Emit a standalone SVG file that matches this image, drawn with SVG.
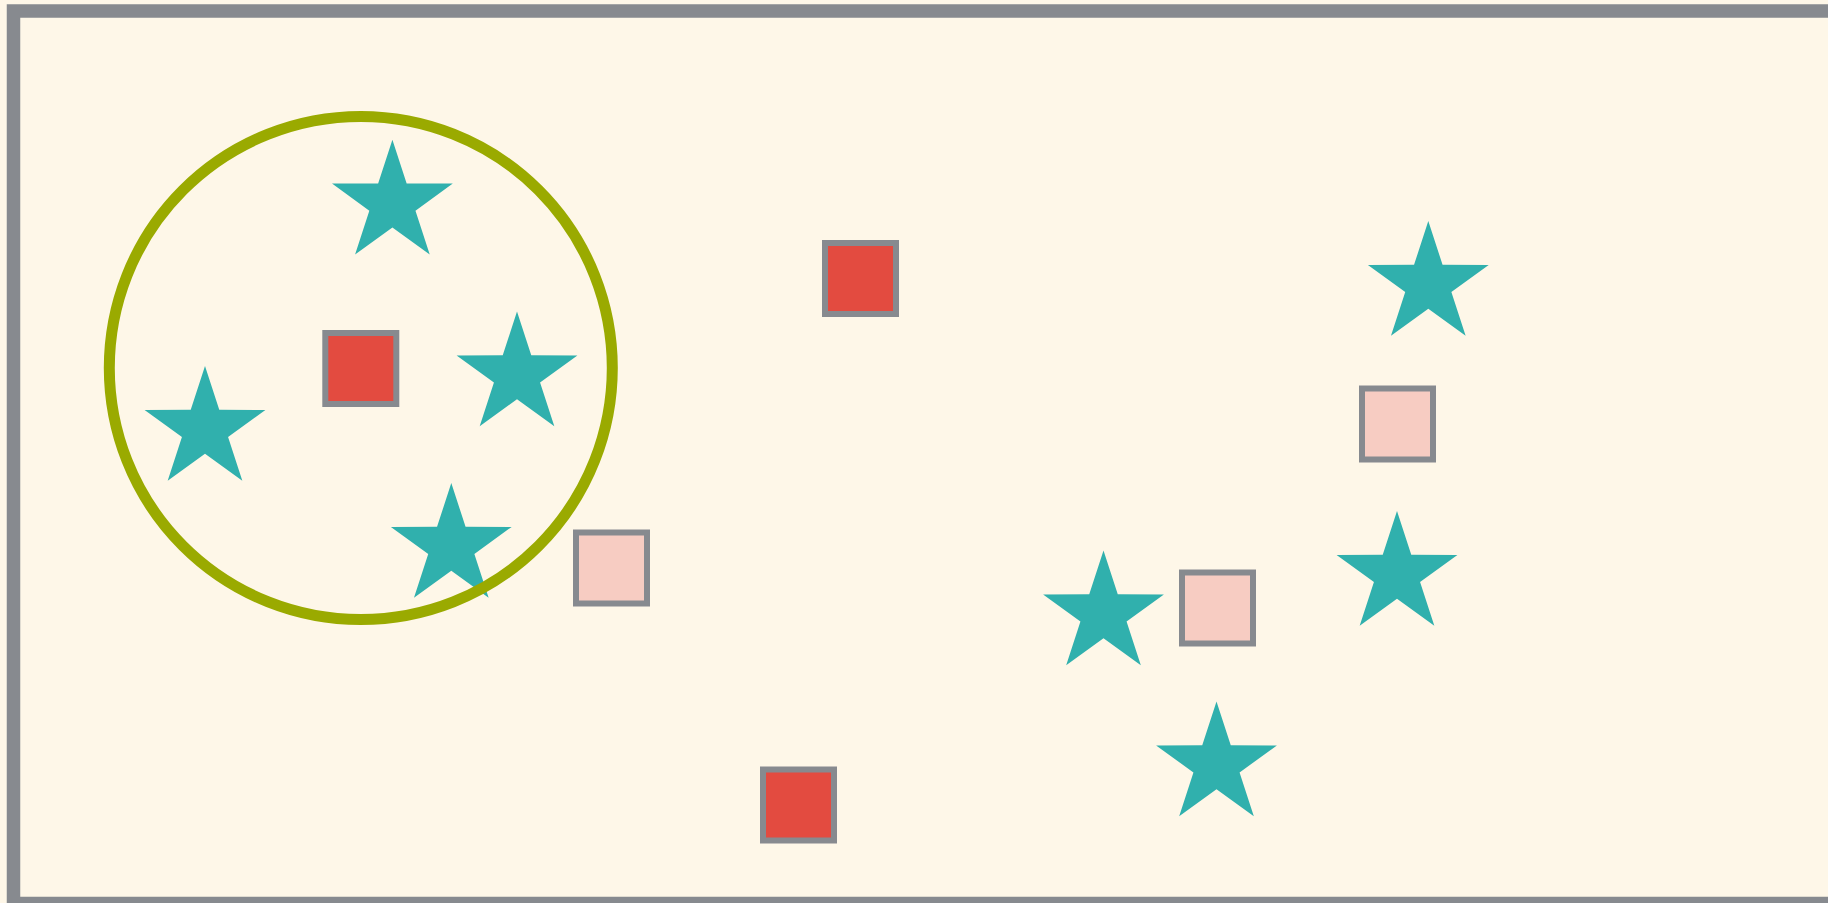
<svg xmlns="http://www.w3.org/2000/svg" xmlns:xlink="http://www.w3.org/1999/xlink" width="1828" height="903" viewBox="0 0 1828 903">
  <style>
    .frame { fill: #FEF7E8; stroke: #878A8F; stroke-width: 13.5; }
    .sq { stroke: #878A8F; stroke-width: 6; }
    .red { fill: #E34B40; }
    .pink { fill: #F7CCC2; }
    .star { fill: #30B0AD; }
    .ring { fill: none; stroke: #9AAA00; stroke-width: 11; }
  </style>
  <defs>
    <path id="starShape" d="M0,-63.5 L14.26,-19.63 L60.39,-19.62 L23.07,7.5 L37.32,51.37 L0,24.26 L-37.32,51.37 L-23.07,7.5 L-60.39,-19.62 L-14.26,-19.63 Z"/>
  </defs>
  <rect width="1828" height="903" fill="#FEF7E8"/>
  <rect class="frame" x="13.5" y="11" width="2000" height="892.5"/>
  <g id="connectors"></g>
  <g id="star1"><use xlink:href="#starShape" href="#starShape" class="star" transform="translate(392.4,203.2)"/></g>
  <g id="star2"><use xlink:href="#starShape" href="#starShape" class="star" transform="translate(517,375)"/></g>
  <g id="star3"><use xlink:href="#starShape" href="#starShape" class="star" transform="translate(205,429.5)"/></g>
  <g id="star4"><use xlink:href="#starShape" href="#starShape" class="star" transform="translate(451.3,546.5)"/></g>
  <g id="star5"><use xlink:href="#starShape" href="#starShape" class="star" transform="translate(1428.3,284.5)"/></g>
  <g id="star6"><use xlink:href="#starShape" href="#starShape" class="star" transform="translate(1397,574.5)"/></g>
  <g id="star7"><use xlink:href="#starShape" href="#starShape" class="star" transform="translate(1103.5,614)"/></g>
  <g id="star8"><use xlink:href="#starShape" href="#starShape" class="star" transform="translate(1216.5,765)"/></g>
  <g id="squareA"><rect class="sq red" x="325.3" y="333" width="71" height="71"/></g>
  <g id="squareB"><rect class="sq red" x="825" y="243" width="71" height="71"/></g>
  <g id="squareC"><rect class="sq red" x="763" y="769.5" width="71" height="71"/></g>
  <g id="squareD"><rect class="sq pink" x="576" y="532.5" width="71" height="71"/></g>
  <g id="squareE"><rect class="sq pink" x="1182" y="572.5" width="71" height="71"/></g>
  <g id="squareF"><rect class="sq pink" x="1362" y="388.5" width="71" height="71"/></g>
  <g id="ring"><circle class="ring" cx="360.8" cy="368" r="251.5"/></g>
</svg>
